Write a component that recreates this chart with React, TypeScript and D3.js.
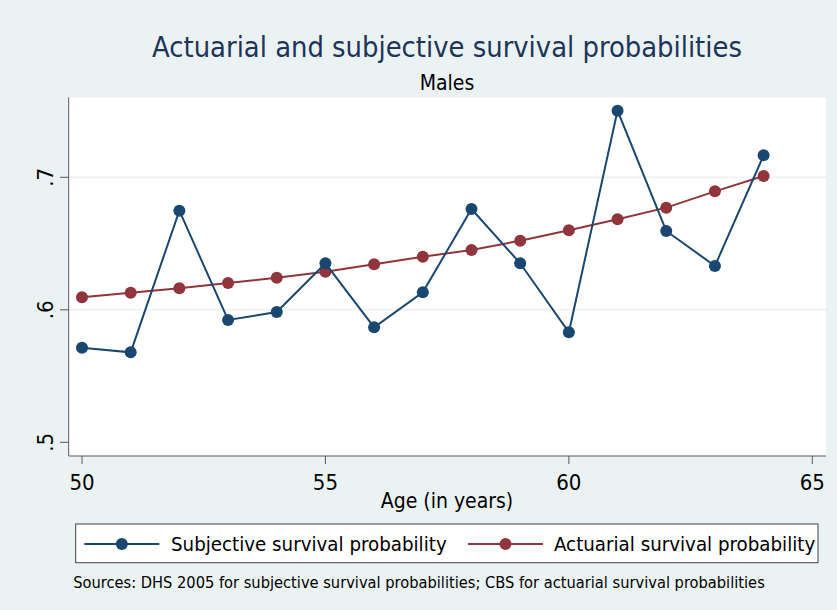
import React from "react";
import * as d3 from "d3";

const ages = [50, 51, 52, 53, 54, 55, 56, 57, 58, 59, 60, 61, 62, 63, 64];
const subjective = [0.5714, 0.5679, 0.6748, 0.5923, 0.5983, 0.6351, 0.5868, 0.6132, 0.6761, 0.6351, 0.583, 0.7503, 0.6595, 0.6331, 0.7166];
const actuarial = [0.6094, 0.6129, 0.6162, 0.6202, 0.6242, 0.6288, 0.6343, 0.6401, 0.6451, 0.6521, 0.66, 0.6683, 0.6771, 0.6894, 0.701];
const xTicks = [50, 55, 60, 65];
const yTicks = [0.5, 0.6, 0.7];
const yTickLabels = [".5", ".6", ".7"];
const seriesNames = ["Subjective survival probability", "Actuarial survival probability"];

const W = 837;
const H = 610;
const BG = "#eaf2f3";
const BLUE = "#1a476f";
const RED = "#90353b";
const TITLE = "#1e3458";
const FONT = "'DejaVu Sans Condensed', 'DejaVu Sans', sans-serif";

export default function App() {
  const plotL = 68.7, plotR = 826, plotT = 97.3, plotB = 456;
  const x = d3.scaleLinear().domain([50, 65]).range([82, 812.3]);
  const y = d3.scaleLinear().domain([0.5, 0.7]).range([442.3, 177.3]);
  const line = d3.line<number>().x((_, i) => x(ages[i])).y((d) => y(d));

  const legendY = 544;
  const legendItems = [
    { name: seriesNames[0], color: BLUE, x1: 84.3, x2: 159.3, tx: 171 },
    { name: seriesNames[1], color: RED, x1: 468, x2: 543, tx: 554 },
  ];

  return (
    <svg width={W} height={H} style={{ position: "absolute", left: 0, top: 0, fontFamily: FONT, fontStretch: "condensed" }}>
      <rect x={0} y={0} width={W} height={H} fill={BG} />
      <text x={447} y={57} textAnchor="middle" fontSize={28.8} fill={TITLE}>
        Actuarial and subjective survival probabilities
      </text>
      <text x={447} y={90} textAnchor="middle" fontSize={21} fill="#000">
        Males
      </text>
      <rect x={plotL} y={plotT} width={plotR - plotL} height={plotB - plotT} fill="#fff" />
      {yTicks.slice(1).map((t) => (
        <line key={t} x1={plotL} x2={plotR} y1={y(t)} y2={y(t)} stroke={BG} strokeWidth={1.6} />
      ))}
      <path d={line(actuarial) || ""} fill="none" stroke={RED} strokeWidth={2} />
      {actuarial.map((v, i) => (
        <circle key={"a" + i} cx={x(ages[i])} cy={y(v)} r={6} fill={RED} />
      ))}
      <path d={line(subjective) || ""} fill="none" stroke={BLUE} strokeWidth={2} />
      {subjective.map((v, i) => (
        <circle key={"s" + i} cx={x(ages[i])} cy={y(v)} r={6} fill={BLUE} />
      ))}
      <line x1={plotL} x2={plotL} y1={plotT} y2={plotB} stroke="#5a5a5a" strokeWidth={1} />
      <line x1={plotL} x2={plotR} y1={plotB} y2={plotB} stroke="#5a5a5a" strokeWidth={1} />
      {yTicks.map((t, i) => (
        <g key={t}>
          <line x1={plotL - 8.7} x2={plotL} y1={y(t)} y2={y(t)} stroke="#5a5a5a" strokeWidth={1} />
          <text
            transform={`translate(52.5,${y(t)}) rotate(-90)`}
            textAnchor="middle"
            fontSize={22}
            fill="#000"
          >
            {yTickLabels[i]}
          </text>
        </g>
      ))}
      {xTicks.map((t) => (
        <g key={t}>
          <line x1={x(t)} x2={x(t)} y1={plotB} y2={plotB + 8} stroke="#5a5a5a" strokeWidth={1} />
          <text x={x(t)} y={490} textAnchor="middle" fontSize={22} fill="#000">
            {t}
          </text>
        </g>
      ))}
      <text x={447} y={508} textAnchor="middle" fontSize={21} fill="#000">
        Age (in years)
      </text>
      <rect x={75.7} y={524} width={818 - 75.7} height={38.7} fill="#fff" stroke="#404040" strokeWidth={1} />
      {legendItems.map((it) => (
        <g key={it.name}>
          <line x1={it.x1} x2={it.x2} y1={legendY} y2={legendY} stroke={it.color} strokeWidth={2} />
          <circle cx={(it.x1 + it.x2) / 2} cy={legendY} r={6} fill={it.color} />
          <text x={it.tx} y={legendY + 7.3} fontSize={20.3} fill="#000">
            {it.name}
          </text>
        </g>
      ))}
      <text x={73.3} y={587.7} fontSize={16.3} fill="#000">
        Sources: DHS 2005 for subjective survival probabilities; CBS for actuarial survival probabilities
      </text>
    </svg>
  );
}
